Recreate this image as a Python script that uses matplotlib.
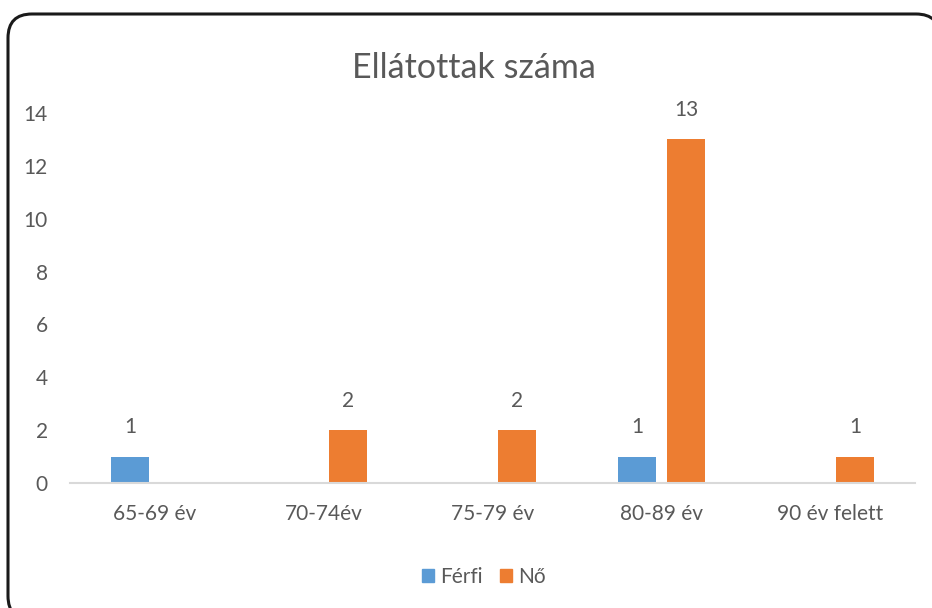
import matplotlib.pyplot as plt
import numpy as np
from matplotlib.patches import FancyBboxPatch, Patch
from matplotlib.transforms import IdentityTransform

# Chart data
categories = ["65-69 év", "70-74év", "75-79 év", "80-89 év", "90 év felett"]
ferfi = [1, 0, 0, 1, 0]
no = [0, 2, 2, 13, 1]
series_names = ["Férfi", "Nő"]
y_ticks = [0, 2, 4, 6, 8, 10, 12, 14]

BLUE = "#5B9BD5"
ORANGE = "#ED7D31"
TEXT = "#595959"

plt.rcParams["font.family"] = ["Lato", "DejaVu Sans"]

fig = plt.figure(figsize=(9.32, 6.08), dpi=100)

# Rounded chart border in pixel coords (runs past right and bottom edge).
# Filled white and kept behind the axes so Agg doesn't clip the curves oddly.
border = FancyBboxPatch(
    (8, -12), 932, 606,
    boxstyle="round,pad=0,rounding_size=24",
    transform=IdentityTransform(), facecolor="white", edgecolor="#1a1a1a",
    linewidth=2.2, clip_on=False, zorder=-1,
)
fig.patches.append(border)

ax = fig.add_axes([70 / 932, 1 - 483 / 608, 845 / 932, 370 / 608])
ax.patch.set_alpha(0)

x = np.arange(len(categories))
width = 0.225
offset = 0.145
bars_f = ax.bar(x - offset, ferfi, width, color=BLUE)
bars_n = ax.bar(x + offset, no, width, color=ORANGE)

# Data labels only for non-zero bars
for bars, vals in ((bars_f, ferfi), (bars_n, no)):
    for bar, val in zip(bars, vals):
        if val == 0:
            continue
        ax.annotate(str(val), (bar.get_x() + bar.get_width() / 2, val),
                    xytext=(0, 14), textcoords="offset points",
                    ha="center", va="bottom", fontsize=15, color=TEXT)

ax.set_xlim(-0.5, len(categories) - 0.5)
ax.set_ylim(0, 14)
ax.set_yticks(y_ticks)
ax.set_xticks(x)
ax.set_xticklabels(categories)
ax.tick_params(axis="both", length=0, labelsize=15, labelcolor=TEXT)
ax.tick_params(axis="y", pad=16)
ax.tick_params(axis="x", pad=15)

for side in ("top", "right", "left"):
    ax.spines[side].set_visible(False)
ax.spines["bottom"].set_color("#D9D9D9")
ax.spines["bottom"].set_linewidth(1.5)

fig.text(474 / 932, 1 - 68 / 608, "Ellátottak száma", ha="center", va="center",
         fontsize=24.5, color=TEXT)

handles = [Patch(color=BLUE), Patch(color=ORANGE)]
fig.legend(handles, series_names, loc="center",
           bbox_to_anchor=(484 / 932, 1 - 577 / 608), ncol=2, frameon=False,
           fontsize=15, labelcolor=TEXT, handlelength=0.6, handleheight=0.6,
           handletextpad=0.3, columnspacing=0.8)

fig.savefig("out.png", dpi=100)
